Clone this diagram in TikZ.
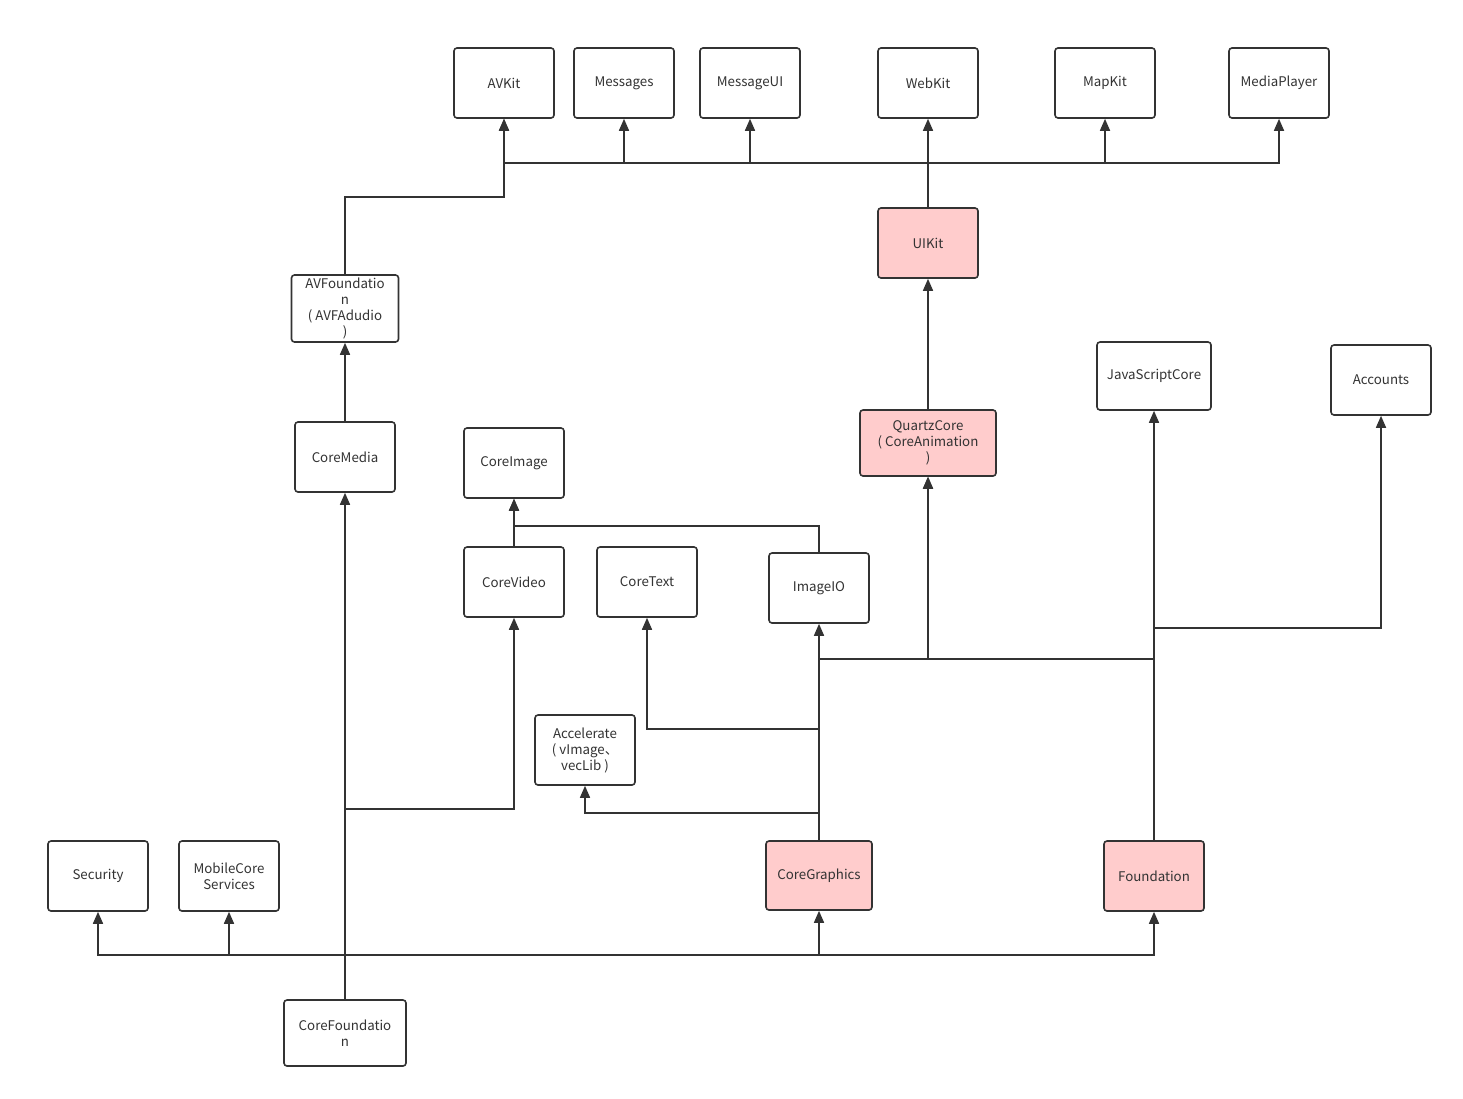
\documentclass[tikz,border=0pt]{standalone}
\usepackage{fontspec}
\setmainfont{Noto Sans CJK SC}
\usetikzlibrary{arrows.meta}
\definecolor{ln}{HTML}{333333}
\definecolor{pk}{HTML}{FFCCCC}
\tikzset{
  box/.style={draw=ln, line width=1.6pt, rounded corners=3pt, fill=white, inner sep=0pt,
    minimum width=100pt, minimum height=70pt, align=center, text=ln,
    font=\fontsize{13.3}{16}\selectfont},
  hot/.style={box, fill=pk},
  arr/.style={draw=ln, line width=1.6pt, -{Triangle[width=10pt,length=12pt]}}
}
\begin{document}
\begin{tikzpicture}[x=1pt,y=-1pt]
\useasboundingbox[fill=white] (0,0) rectangle (1463,1098);
% top row
\node[box] (avkit) at (504,83) {AVKit};
\node[box] (msg) at (624,83) {Messages};
\node[box] (msgui) at (750,83) {MessageUI};
\node[box] (webkit) at (928,83) {WebKit};
\node[box] (mapkit) at (1105,83) {MapKit};
\node[box] (mp) at (1279,83) {MediaPlayer};
% middle
\node[hot] (uikit) at (928,243) {UIKit};
\node[box, minimum width=107pt, minimum height=67pt] (avf) at (345,308.5) {AVFoundatio\\n\\(~AVFAdudio\\)};
\node[box] (cm) at (345,457) {CoreMedia};
\node[box] (ci) at (514,463) {CoreImage};
\node[hot, minimum width=136pt, minimum height=66pt] (qc) at (928,443) {QuartzCore\\(~CoreAnimation\\)};
\node[box, minimum width=114pt, minimum height=68pt] (jsc) at (1154,376) {JavaScriptCore};
\node[box] (acc) at (1381,380) {Accounts};
\node[box] (cv) at (514,582) {CoreVideo};
\node[box] (ct) at (647,582) {CoreText};
\node[box] (iio) at (819,588) {ImageIO};
\node[box] (accel) at (585,750) {Accelerate\\(~vImage、\\vecLib~)};
% bottom
\node[box] (sec) at (98,876) {Security};
\node[box] (mcs) at (229,876) {MobileCore\\Services};
\node[hot, minimum width=106pt, minimum height=69pt] (cg) at (819,875.5) {CoreGraphics};
\node[hot] (fd) at (1154,876) {Foundation};
\node[box, minimum width=122pt, minimum height=66pt] (cf) at (345,1033) {CoreFoundatio\\n};
% junction coordinates
\coordinate (bus) at (700,163);
\coordinate (j1) at (420,197);
\coordinate (b2) at (600,955);
\coordinate (cvj) at (400,809);
\coordinate (ctj) at (700,729);
\coordinate (acj) at (700,813);
\coordinate (qj) at (880,659);
\coordinate (qj2) at (1000,659);
\coordinate (accj) at (1250,628);
\coordinate (iij) at (700,526);
% UIKit to top row
\draw[arr] (uikit.north) -- (webkit.south);
\draw[arr] (uikit.north) |- (bus) -| (avkit.south);
\draw[arr] (uikit.north) |- (bus) -| (msg.south);
\draw[arr] (uikit.north) |- (bus) -| (msgui.south);
\draw[arr] (uikit.north) |- (bus) -| (mapkit.south);
\draw[arr] (uikit.north) |- (bus) -| (mp.south);
% AVFoundation to AVKit
\draw[arr] (avf.north) |- (j1) -| (avkit.south);
% QuartzCore to UIKit
\draw[arr] (qc.north) -- (uikit.south);
% CoreMedia to AVFoundation
\draw[arr] (cm.north) -- (avf.south);
% CoreFoundation
\draw[arr] (cf.north) -- (cm.south);
\draw[arr] (cf.north) |- (cvj) -| (cv.south);
\draw[arr] (cf.north) |- (b2) -| (sec.south);
\draw[arr] (cf.north) |- (b2) -| (mcs.south);
\draw[arr] (cf.north) |- (b2) -| (cg.south);
\draw[arr] (cf.north) |- (b2) -| (fd.south);
% CoreImage
\draw[arr] (cv.north) -- (ci.south);
\draw[arr] (iio.north) |- (iij) -| (ci.south);
% CoreGraphics
\draw[arr] (cg.north) -- (iio.south);
\draw[arr] (cg.north) |- (ctj) -| (ct.south);
\draw[arr] (cg.north) |- (acj) -| (accel.south);
\draw[arr] (cg.north) |- (qj) -| (qc.south);
% Foundation
\draw[arr] (fd.north) -- (jsc.south);
\draw[arr] (fd.north) |- (accj) -| (acc.south);
\draw[arr] (fd.north) |- (qj2) -| (qc.south);
\end{tikzpicture}
\end{document}
